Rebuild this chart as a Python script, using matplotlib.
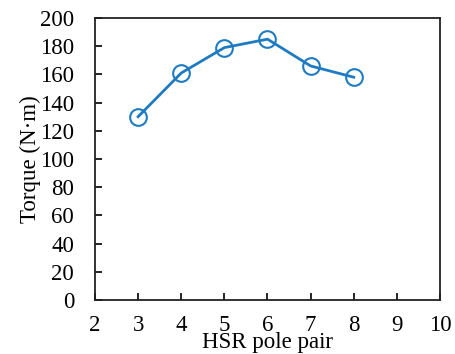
import matplotlib.pyplot as plt

pole_pairs = [3, 4, 5, 6, 7, 8]
torque = [130, 161, 179, 185, 166, 158]

plt.rcParams['font.family'] = ['Liberation Serif', 'DejaVu Serif']

fig = plt.figure(figsize=(4.56, 3.54), dpi=100)
ax = fig.add_axes([95 / 456, 1 - 300 / 354, 345 / 456, 282 / 354])

ax.plot(pole_pairs, torque, color='#1f7bc1', linewidth=2,
        marker='o', markersize=12, markerfacecolor='none',
        markeredgecolor='#1f7bc1', markeredgewidth=1.5)

ax.set_xlim(2, 10)
ax.set_ylim(0, 200)
ax.set_xticks(range(2, 11))
ax.set_yticks(range(0, 201, 20))

ax.tick_params(direction='in', length=5, width=1.2, labelsize=16.5,
               colors='black')
ax.tick_params(axis='x', pad=11)
ax.tick_params(axis='y', pad=15)
for s in ax.spines.values():
    s.set_linewidth(1.3)
    s.set_color('#222222')

ax.set_xlabel('HSR pole pair', fontsize=16.5, labelpad=-3)
ax.set_ylabel('Torque (N·m)', fontsize=16.5, labelpad=-1)

fig.savefig('out.png', dpi=100)
